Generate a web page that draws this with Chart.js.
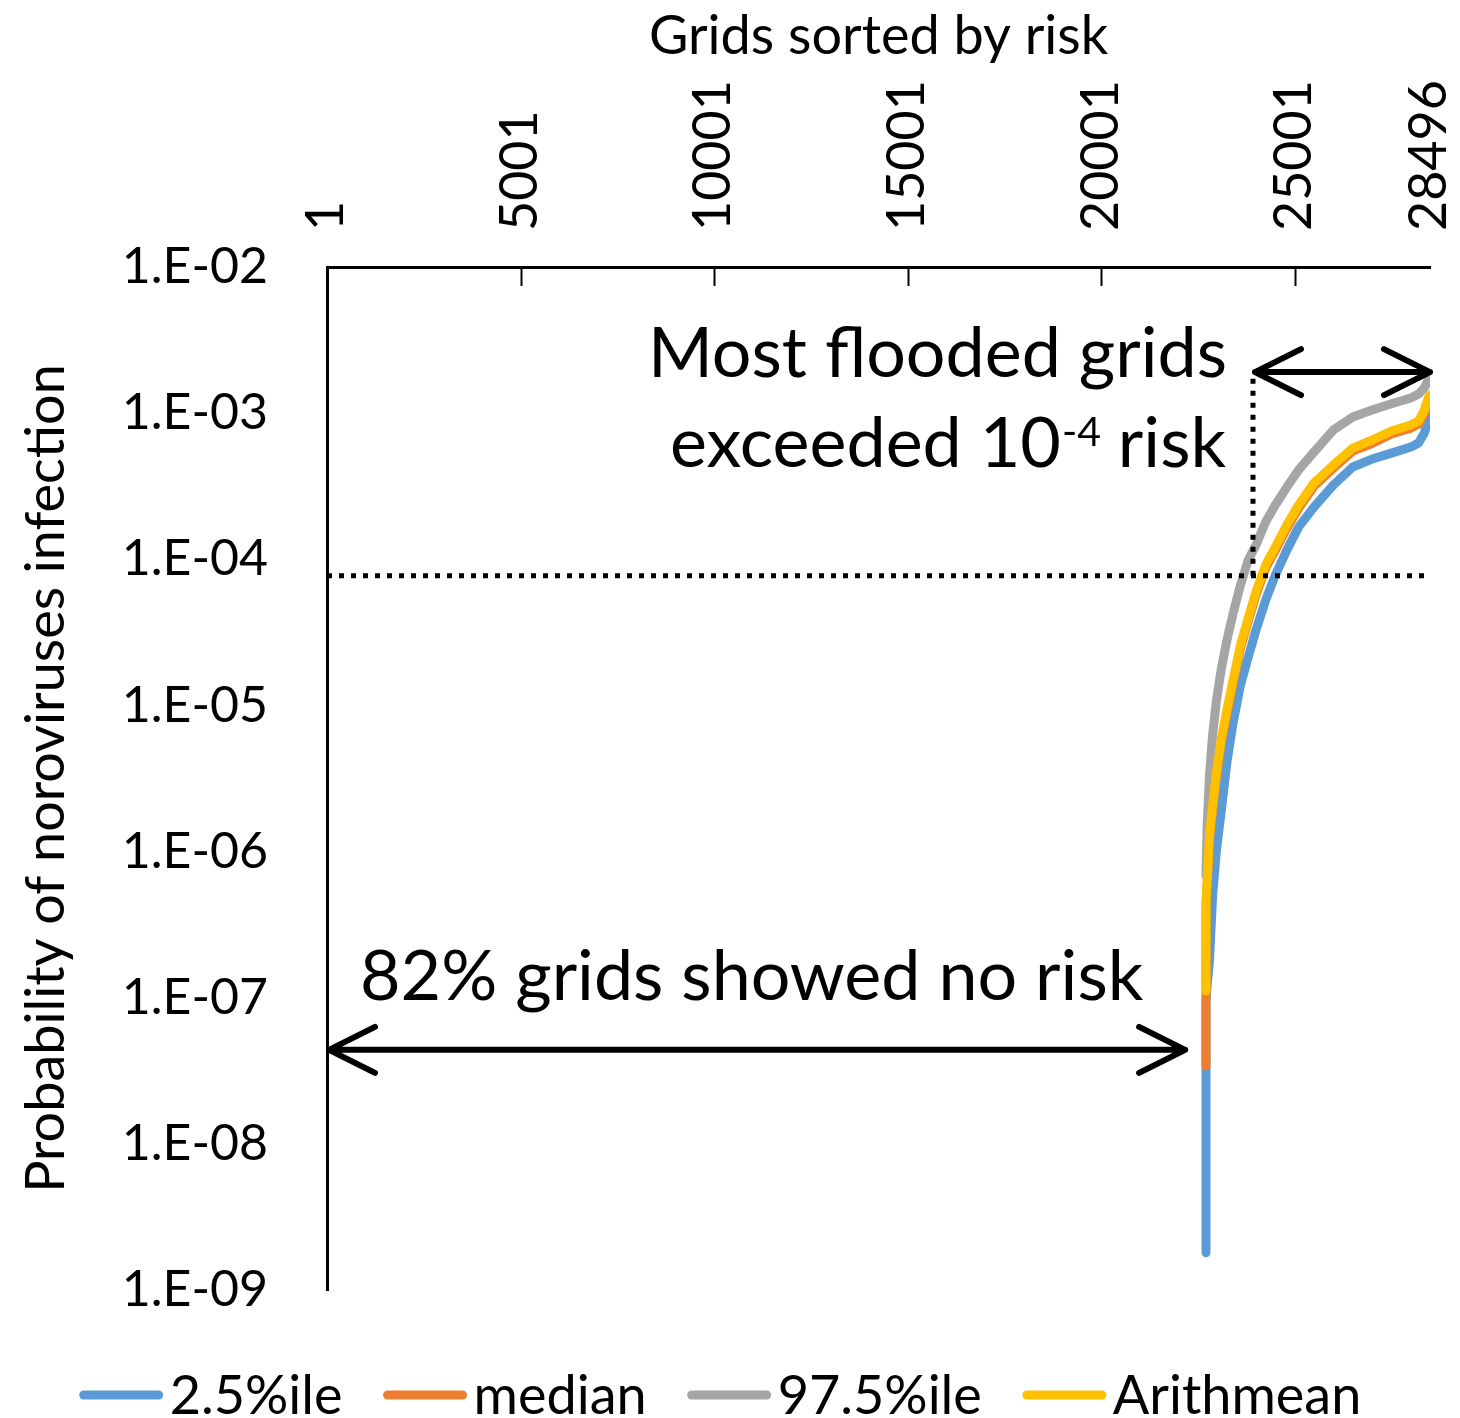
<!DOCTYPE html>
<html>
<head>
<meta charset="utf-8">
<title>Norovirus infection risk by grid</title>
<script src="https://cdn.jsdelivr.net/npm/chart.js@4"></script>
<style>
  html, body { margin: 0; padding: 0; background: #fff; }
  #wrap { width: 1460px; height: 1418px; }
</style>
</head>
<body>
<div id="wrap"><canvas id="riskChart" width="1460" height="1418"></canvas></div>
<script>
// Grid rank (x) shared by all series; repeated ranks make the vertical start of each curve
const gridIdx = [22709, 22709, 22709, 22709, 22709, 22740, 22800, 22880, 22980, 23100,
                 23250, 23400, 23600, 23800, 24000, 24250, 24500, 24800, 25100, 25500,
                 26000, 26500, 27000, 27500, 28000, 28200, 28350, 28450, 28496];

// Probability of infection (null = zero risk, not drawn on log axis)
const p025 = [1.8e-9, 1.2e-8, 3.5e-8, 6.5e-8, 9.6e-8, 1.22e-7, 1.81e-7, 5.0e-7, 1.03e-6, 1.87e-6,
              4.1e-6, 7.4e-6, 1.38e-5, 2.14e-5, 3.28e-5, 5.26e-5, 7.8e-5, 1.16e-4, 1.66e-4, 2.28e-4,
              3.22e-4, 4.28e-4, 4.85e-4, 5.33e-4, 5.86e-4, 6.25e-4, 7.31e-4, 8.97e-4, 9.56e-4];
const median = [null, null, 3.4e-8, 1.1e-7, 4.2e-7, 6.0e-7, 1.22e-6, 1.95e-6, 3.3e-6, 5.5e-6,
                8.8e-6, 1.38e-5, 2.46e-5, 3.76e-5, 5.7e-5, 8.7e-5, 1.15e-4, 1.63e-4, 2.23e-4, 3.16e-4,
                4.2e-4, 5.5e-4, 6.2e-4, 7.2e-4, 7.9e-4, 8.4e-4, 9.9e-4, 1.2e-3, 1.26e-3];
const p975 = [null, null, null, null, 6.81e-7, 1.52e-6, 3.34e-6, 6.28e-6, 1.09e-5, 1.75e-5,
              2.8e-5, 4.16e-5, 6.67e-5, 9.89e-5, 1.25e-4, 1.8e-4, 2.35e-4, 3.12e-4, 4.08e-4, 5.42e-4,
              7.67e-4, 9.41e-4, 1.05e-3, 1.16e-3, 1.27e-3, 1.35e-3, 1.49e-3, 1.69e-3, 1.85e-3];
const arithMean = [null, null, null, 1.11e-7, 4.67e-7, 6.38e-7, 1.3e-6, 2.08e-6, 3.5e-6, 5.8e-6,
                   9.31e-6, 1.45e-5, 2.59e-5, 3.96e-5, 5.97e-5, 9.14e-5, 1.21e-4, 1.72e-4, 2.35e-4, 3.33e-4,
                   4.42e-4, 5.77e-4, 6.55e-4, 7.55e-4, 8.3e-4, 8.83e-4, 1.05e-3, 1.27e-3, 1.33e-3];

const seriesNames = ['2.5%ile', 'median', '97.5%ile', 'Arithmean'];
const seriesColors = ['#5b9bd5', '#ed7d31', '#a5a5a5', '#ffc000'];

// Axis ticks
const xTicks = [1, 5001, 10001, 15001, 20001, 25001, 28496];
const yTicks = [1e-9, 1e-8, 1e-7, 1e-6, 1e-5, 1e-4, 1e-3, 1e-2];

// Annotation anchors (data units)
const thresholdRisk = 7.7e-5;
const noRiskRange = [1, 22170];
const noRiskArrowAt = 4.4e-8;
const floodedRange = [23923, 28496];
const floodedArrowAt = 1.91e-3;

const FONT = 'Lato, "Open Sans", sans-serif';

function toPoints(values) {
    return gridIdx.map((g, i) => ({ x: g, y: values[i] }));
}

function arrow(ctx, x1, x2, py) {
    const ax = 46, ay = 23;
    ctx.beginPath();
    ctx.moveTo(x1, py); ctx.lineTo(x2, py);
    ctx.moveTo(x1 + ax, py - ay); ctx.lineTo(x1, py); ctx.lineTo(x1 + ax, py + ay);
    ctx.moveTo(x2 - ax, py - ay); ctx.lineTo(x2, py); ctx.lineTo(x2 - ax, py + ay);
    ctx.stroke();
}

const overlay = {
    id: 'overlay',
    afterDatasetsDraw(chart) {
        const { ctx, chartArea: a } = chart;
        const x = chart.scales.x, y = chart.scales.y;
        ctx.save();
        ctx.strokeStyle = '#000';
        ctx.fillStyle = '#000';

        // tick marks pointing into the plot
        ctx.lineWidth = 2;
        xTicks.slice(1, -1).forEach(v => {
            const px = Math.round(x.getPixelForValue(v)) + 0.5;
            ctx.beginPath(); ctx.moveTo(px, a.top); ctx.lineTo(px, a.top + 19); ctx.stroke();
        });

        // dotted threshold lines
        const thrY = y.getPixelForValue(thresholdRisk);
        const fx = x.getPixelForValue(floodedRange[0]);
        const fTop = y.getPixelForValue(floodedArrowAt);
        ctx.lineWidth = 5;
        ctx.setLineDash([5, 7]);
        ctx.beginPath(); ctx.moveTo(a.left, thrY); ctx.lineTo(a.right, thrY); ctx.stroke();
        ctx.beginPath(); ctx.moveTo(fx, thrY); ctx.lineTo(fx, fTop); ctx.stroke();
        ctx.setLineDash([]);

        // arrows
        ctx.lineWidth = 6;
        ctx.lineCap = 'round';
        ctx.lineJoin = 'round';
        arrow(ctx, x.getPixelForValue(noRiskRange[0]) + 2, x.getPixelForValue(noRiskRange[1]), y.getPixelForValue(noRiskArrowAt));
        arrow(ctx, fx + 2, x.getPixelForValue(floodedRange[1]), fTop);

        // labels
        const big = 70, small = 41;
        ctx.textBaseline = 'alphabetic';
        ctx.font = big + 'px ' + FONT;
        ctx.textAlign = 'right';
        ctx.fillText('Most flooded grids', 1227, 377);

        const part1 = 'exceeded 10', sup = '-4', part3 = ' risk';
        ctx.font = big + 'px ' + FONT;
        const w1 = ctx.measureText(part1).width, w3 = ctx.measureText(part3).width;
        ctx.font = small + 'px ' + FONT;
        const w2 = ctx.measureText(sup).width;
        const sx = 1226 - (w1 + w2 + w3);
        ctx.textAlign = 'left';
        ctx.font = big + 'px ' + FONT;
        ctx.fillText(part1, sx, 467);
        ctx.font = small + 'px ' + FONT;
        ctx.fillText(sup, sx + w1 + 1, 467 - 21);
        ctx.font = big + 'px ' + FONT;
        ctx.fillText(part3, sx + w1 + w2, 467);

        ctx.fillText('82% grids showed no risk', 360, 1000);
        ctx.restore();
    },
    afterDraw(chart) {
        // legend: line sample + label, laid out in one centred row
        const { ctx } = chart;
        ctx.save();
        ctx.font = '54px ' + FONT;
        const sample = 85, gapText = 6, gapItem = 40;
        const widths = seriesNames.map(n => ctx.measureText(n).width);
        const total = widths.reduce((s, w) => s + sample + gapText + w, 0) + gapItem * (seriesNames.length - 1);
        let lx = 720 - total / 2;
        const ly = 1395;
        ctx.textBaseline = 'middle';
        ctx.textAlign = 'left';
        seriesNames.forEach((n, i) => {
            ctx.strokeStyle = seriesColors[i];
            ctx.lineWidth = 9;
            ctx.lineCap = 'round';
            ctx.beginPath(); ctx.moveTo(lx + 5, ly); ctx.lineTo(lx + sample - 5, ly); ctx.stroke();
            ctx.fillStyle = '#000';
            ctx.fillText(n, lx + sample + gapText, ly + 2);
            lx += sample + gapText + widths[i] + gapItem;
        });
        ctx.restore();
    }
};

const datasets = [p025, median, p975, arithMean].map((vals, i) => ({
    label: seriesNames[i],
    data: toPoints(vals),
    borderColor: seriesColors[i],
    backgroundColor: seriesColors[i],
    order: 4 - i
}));

const ctx = document.getElementById('riskChart').getContext('2d');
new Chart(ctx, {
    type: 'line',
    data: { datasets: datasets },
    options: {
        responsive: false,
        animation: false,
        devicePixelRatio: 1,
        layout: { padding: { left: 0, right: 30, top: 0, bottom: 128 } },
        plugins: {
            legend: { display: false },
            tooltip: { enabled: false }
        },
        elements: {
            point: { radius: 0 },
            line: { borderWidth: 9, borderCapStyle: 'round', borderJoinStyle: 'round', tension: 0 }
        },
        scales: {
            x: {
                type: 'linear',
                position: 'top',
                min: 1,
                max: 28496,
                afterFit: s => { s.height = 267; s.paddingLeft = 0; s.paddingRight = 0; },
                afterBuildTicks: s => { s.ticks = xTicks.map(v => ({ value: v })); },
                ticks: {
                    autoSkip: false,
                    minRotation: 90,
                    maxRotation: 90,
                    padding: 36,
                    labelOffset: 62,
                    color: '#000',
                    font: { family: FONT, size: 52 },
                    callback: v => String(v)
                },
                grid: { display: false, drawTicks: false },
                border: { display: true, color: '#000', width: 3 },
                title: {
                    display: true,
                    text: 'Grids sorted by risk',
                    color: '#000',
                    font: { family: FONT, size: 54 },
                    padding: { top: 4, bottom: 0 }
                }
            },
            y: {
                type: 'logarithmic',
                min: 1e-9,
                max: 1e-2,
                afterFit: s => { s.width = 327; },
                afterBuildTicks: s => { s.ticks = yTicks.map(v => ({ value: v })); },
                ticks: {
                    padding: 59,
                    color: '#000',
                    font: { family: FONT, size: 50 },
                    callback: v => '1.E-' + String(-Math.round(Math.log10(v))).padStart(2, '0')
                },
                grid: { display: false, drawTicks: false },
                border: { display: true, color: '#000', width: 3 },
                title: {
                    display: true,
                    text: 'Probability of noroviruses infection',
                    color: '#000',
                    font: { family: FONT, size: 54 },
                    padding: { top: 14, bottom: 0 }
                }
            }
        }
    },
    plugins: [overlay]
});
</script>
</body>
</html>
